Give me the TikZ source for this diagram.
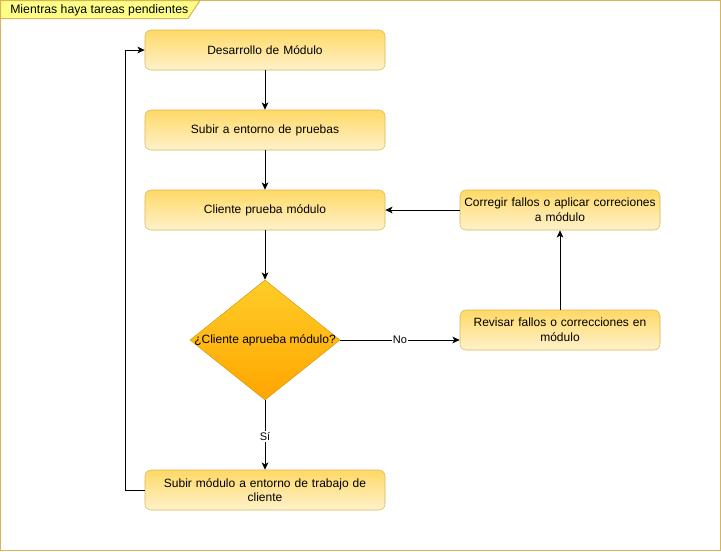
\documentclass[tikz,border=0pt]{standalone}
\usepackage{fontspec}
\setmainfont{Liberation Sans}
\usetikzlibrary{arrows.meta,shapes.geometric}
\definecolor{boxtop}{HTML}{FFD966}
\definecolor{boxbot}{HTML}{FFF2CC}
\definecolor{boxline}{HTML}{D6B656}
\definecolor{dtop}{HTML}{FFCD28}
\definecolor{dbot}{HTML}{FFA500}
\definecolor{dline}{HTML}{D79B00}
\definecolor{tabfill}{HTML}{FFFF88}
\tikzset{
  stepbox/.style={rectangle, rounded corners=4.5pt, draw=boxline, top color=boxtop, bottom color=boxbot,
    minimum width=180pt, minimum height=30pt, align=center, text width=174pt, font=\fontsize{9}{11}\selectfont, inner sep=0pt},
  sidebox/.style={stepbox, minimum width=150pt, text width=148pt},
  decision/.style={diamond, draw=dline, top color=dtop, bottom color=dbot, minimum width=112.5pt, minimum height=90pt,
    inner sep=0pt, font=\fontsize{9}{11}\selectfont},
  conn/.style={draw=black, line width=0.75pt, -{Stealth[length=5.5pt,width=5pt,inset=1.5pt]}},
  elabel/.style={fill=white, inner sep=1pt, font=\fontsize{8.25}{10}\selectfont},
}
\begin{document}
\begin{tikzpicture}[x=0.75pt,y=-0.75pt]
\useasboundingbox (0,0) rectangle (721,551);
\draw[boxline, line width=0.75pt] (0.5,0.5) rectangle (720.5,550.5);
\filldraw[fill=tabfill, draw=boxline, line width=0.75pt] (0.5,0.5) -- (200,0.5) -- (188,18.5) -- (0.5,18.5) -- cycle;
\node[anchor=west, inner sep=0pt, font=\fontsize{9.2}{11}\selectfont] (title) at (10,10) {Mientras haya tareas pendientes};

\node[stepbox] (dev) at (265,50) {Desarrollo de Módulo};
\node[stepbox] (up) at (265,130) {Subir a entorno de pruebas};
\node[stepbox] (test) at (265,210) {Cliente prueba módulo};
\node[decision] (dec) at (265,340) {};
\node[font=\fontsize{9}{11}\selectfont, inner sep=0pt] (dectext) at (265,340) {¿Cliente aprueba módulo?};
\node[stepbox] (deploy) at (265,490) {Subir módulo a entorno de trabajo de\\cliente};
\node[sidebox] (fix) at (560,210) {Corregir fallos o aplicar correciones\\a módulo};
\node[sidebox] (review) at (560,330) {Revisar fallos o correcciones en\\módulo};

\coordinate (noend) at (review.west |- dec.east);
\coordinate (loopb) at (125,490);
\coordinate (loopt) at (125,50);

\draw[conn] (dev) -- (up);
\draw[conn] (up) -- (test);
\draw[conn] (test) -- (dec);
\draw[conn] (dec) -- node[elabel, pos=0.52] {Sí} (deploy);
\draw[conn] (dec.east) -- node[elabel, pos=0.5] {No} (noend);
\draw[conn] (review) -- (fix);
\draw[conn] (fix) -- (test);
\draw[conn] (deploy.west) -- (loopb) -- (loopt) -- (dev.west);
\end{tikzpicture}
\end{document}
